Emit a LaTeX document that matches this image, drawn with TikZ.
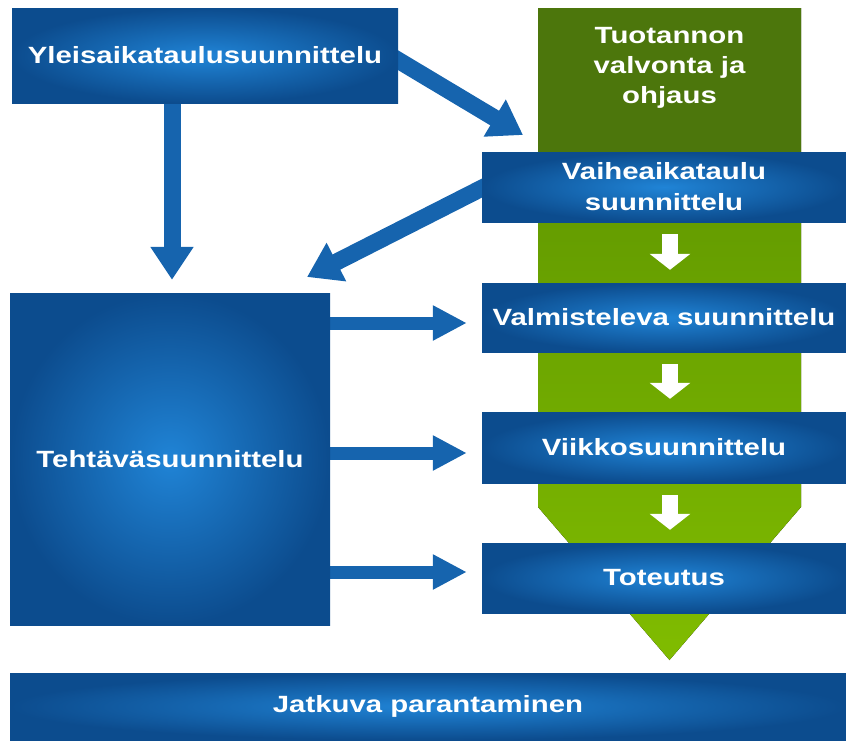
\documentclass[tikz,border=0pt]{standalone}
\usepackage{fontspec}
\setmainfont{Liberation Sans}[FakeStretch=1.25]
\usetikzlibrary{arrows.meta,calc}
\usetikzlibrary{positioning}
\definecolor{bluelo}{RGB}{12,76,142}
\definecolor{bluehi}{RGB}{32,132,214}
\definecolor{bluearr}{RGB}{22,100,174}
\definecolor{greendk}{RGB}{76,118,12}
\definecolor{greentop}{RGB}{88,142,0}
\definecolor{greenbot}{RGB}{128,188,0}
\pgfdeclarelayer{bg}
\pgfsetlayers{bg,main}
\tikzset{blk/.style={rectangle,inner sep=0pt,inner color=bluehi,outer color=bluelo,text=white,align=center,font=\bfseries\fontsize{23.5}{31}\selectfont},
  fat/.style={bluearr,line width=17pt,-{Triangle[length=33pt,width=41pt]}},
  slim/.style={bluearr,line width=13pt,-{Triangle[length=34pt,width=33pt]},shorten >=15pt},
  warr/.style={white,line width=16pt,-{Triangle[length=16pt,width=40pt]},shorten <=12pt,shorten >=13pt}}

\begin{document}
\begin{tikzpicture}[x=1pt,y=-1pt,line join=miter]
\useasboundingbox (0,0) rectangle (846,740);
% --- boxes
\node[blk,minimum width=386pt,minimum height=95pt] (yleis) at (205,55.5) {Yleisaikataulusuunnittelu};
\node[text=white,align=center,font=\bfseries\fontsize{23.5}{30}\selectfont] (tuot) at (669.5,68) {Tuotannon\\valvonta ja\\ohjaus};
\node[blk,minimum width=364pt,minimum height=70pt] (vaihe) at (664,187) {Vaiheaikataulu\\suunnittelu};
\foreach \n/\y/\h/\t in {valm/317.5/69/Valmisteleva suunnittelu,viikko/447.5/71/Viikkosuunnittelu,tot/578/70/Toteutus}
  \node[blk,minimum width=364pt,minimum height=\h pt] (\n) at (664,\y) {\t};
\node[blk,minimum width=320pt,minimum height=332pt] (teht) at (170,459) {Tehtäväsuunnittelu};
\node[blk,minimum width=836pt,minimum height=67pt] (jatk) at (428,706.5) {Jatkuva parantaminen};
\coordinate (vtip) at (523,135);
\coordinate (ttip) at (307,277);
% --- green column and blue arrows behind the boxes
\begin{pgfonlayer}{bg}
\fill[top color=greentop,bottom color=greenbot] (538,8) -- (801,8) -- (801,507) -- (669.5,660) -- (538,507) -- cycle;
\fill[greendk] (538,8) rectangle (801,152);
\draw[fat,shorten >=13pt] (yleis.south -| 172,0) -- (teht.north -| 172,0);
\draw[fat] (391,56) -- (vtip);
\draw[fat] (489,184.5) -- (ttip);
\foreach \y/\n in {323/valm,453/viikko,572/tot}
  \draw[slim] (teht.east |- 0,\y) -- (\n.west |- 0,\y);
\end{pgfonlayer}
% --- white steps down the column
\draw[warr] (vaihe.south -| 670,0) -- (valm.north -| 670,0);
\draw[warr] (valm.south -| 670,0) -- (viikko.north -| 670,0);
\draw[warr] (viikko.south -| 670,0) -- (tot.north -| 670,0);
\end{tikzpicture}
\end{document}
